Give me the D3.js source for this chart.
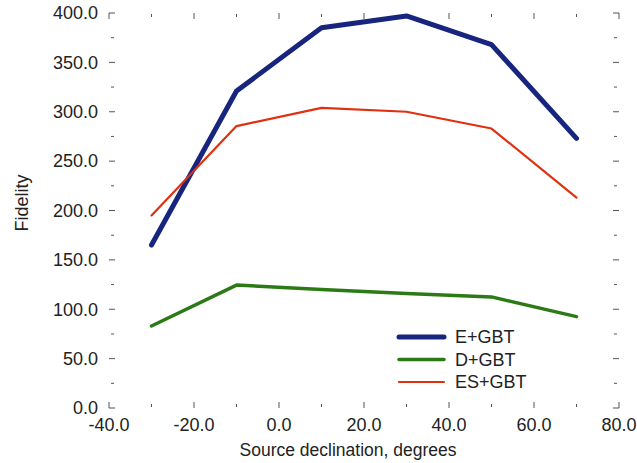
<!DOCTYPE html>
<html>
<head>
<meta charset="utf-8">
<script src="https://cdn.jsdelivr.net/npm/d3@7/dist/d3.min.js"></script>
<style>
  html, body { margin: 0; padding: 0; background: #fff; }
  svg { display: block; }
  text { font-family: "Liberation Sans", Arial, Helvetica, sans-serif; fill: #222; }
</style>
</head>
<body>
<svg id="chart" width="637" height="463"></svg>
<script>
const declination = [-30, -10, 10, 30, 50, 70];
const eGBT  = [165, 321, 385, 397, 368, 273];
const dGBT  = [83, 124.5, 120, 116, 112.5, 92.5];
const esGBT = [195, 285.5, 304, 300, 283, 213];
const seriesNames = ["E+GBT", "D+GBT", "ES+GBT"];
const xTicks = [-40, -20, 0, 20, 40, 60, 80];
const xMinor = [-30, -10, 10, 30, 50, 70];
const yTicks = [0, 50, 100, 150, 200, 250, 300, 350, 400];
const yMinor = [25, 75, 125, 175, 225, 275, 325, 375];

const series = [
  { name: seriesNames[0], values: eGBT,  color: "#17257f", width: 5 },
  { name: seriesNames[1], values: dGBT,  color: "#2c7a16", width: 3.5 },
  { name: seriesNames[2], values: esGBT, color: "#e0300f", width: 2.2 }
];

const svg = d3.select("#chart");
const L = 109, R = 619, T = 13, B = 408;
const x = d3.scaleLinear().domain([-40, 80]).range([L, R]);
const y = d3.scaleLinear().domain([0, 400]).range([B, T]);

const tickColor = "#555";
const fs = 18;
const g = svg.append("g");

// Corner marks
const c = 6;
[[L, T, 1, 1], [R, T, -1, 1], [L, B, 1, -1], [R, B, -1, -1]].forEach(([cx, cy, dx, dy]) => {
  g.append("path")
    .attr("d", `M${cx + dx * c},${cy}H${cx}V${cy + dy * c}`)
    .attr("fill", "none").attr("stroke", tickColor).attr("stroke-width", 1);
});

// Y ticks (left & right)
yTicks.slice(1, -1).forEach(v => {
  g.append("line").attr("x1", L).attr("x2", L + 6).attr("y1", y(v)).attr("y2", y(v)).attr("stroke", tickColor);
  g.append("line").attr("x1", R).attr("x2", R - 6).attr("y1", y(v)).attr("y2", y(v)).attr("stroke", tickColor);
});
yMinor.forEach(v => {
  g.append("line").attr("x1", L + 2).attr("x2", L + 5).attr("y1", y(v)).attr("y2", y(v)).attr("stroke", tickColor);
  g.append("line").attr("x1", R - 2).attr("x2", R - 5).attr("y1", y(v)).attr("y2", y(v)).attr("stroke", tickColor);
});
// X ticks (top & bottom)
xTicks.slice(1, -1).forEach(v => {
  g.append("line").attr("x1", x(v)).attr("x2", x(v)).attr("y1", B).attr("y2", B - 6).attr("stroke", tickColor);
  g.append("line").attr("x1", x(v)).attr("x2", x(v)).attr("y1", T).attr("y2", T + 6).attr("stroke", tickColor);
});
xMinor.forEach(v => {
  g.append("line").attr("x1", x(v)).attr("x2", x(v)).attr("y1", B - 1).attr("y2", B - 4).attr("stroke", tickColor);
  g.append("line").attr("x1", x(v)).attr("x2", x(v)).attr("y1", T + 1).attr("y2", T + 4).attr("stroke", tickColor);
});

// Tick labels (ASCII hyphen as minus, as in the original)
const fmt = v => d3.format(".1f")(v).replace("\u2212", "-");
yTicks.forEach(v => {
  svg.append("text").attr("x", 98).attr("y", y(v)).attr("dy", "0.35em")
    .attr("text-anchor", "end").attr("font-size", fs).text(fmt(v));
});
xTicks.forEach(v => {
  svg.append("text").attr("x", x(v)).attr("y", 431)
    .attr("text-anchor", "middle").attr("font-size", fs).text(fmt(v));
});

// Axis titles
svg.append("text").attr("x", 348).attr("y", 456).attr("text-anchor", "middle")
  .attr("font-size", 17.5).text("Source declination, degrees");
svg.append("text").attr("transform", "translate(28,203) rotate(-90)").attr("text-anchor", "middle")
  .attr("font-size", 18).text("Fidelity");

// Lines
const line = d3.line().x((d, i) => x(declination[i])).y(d => y(d));
series.forEach(s => {
  svg.append("path").datum(s.values).attr("d", line)
    .attr("fill", "none").attr("stroke", s.color).attr("stroke-width", s.width)
    .attr("stroke-linejoin", "round").attr("stroke-linecap", "round");
});

// Legend
series.forEach((s, i) => {
  const ly = 337 + i * 22.5;
  svg.append("line").attr("x1", 399).attr("x2", 444).attr("y1", ly).attr("y2", ly)
    .attr("stroke", s.color).attr("stroke-width", s.width).attr("stroke-linecap", "round");
  svg.append("text").attr("x", 455).attr("y", ly).attr("dy", "0.36em")
    .attr("font-size", fs).text(s.name);
});
</script>
</body>
</html>
